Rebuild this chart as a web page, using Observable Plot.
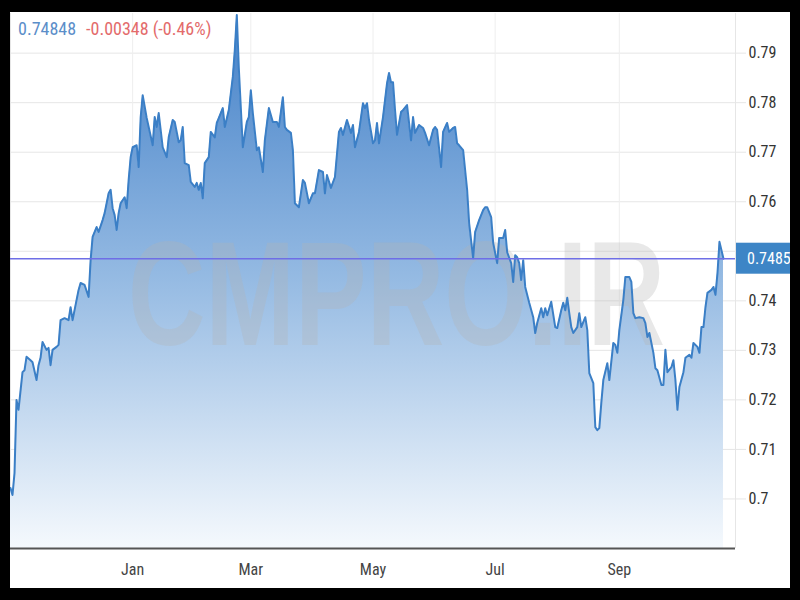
<!DOCTYPE html>
<html><head><meta charset="utf-8">
<script src="https://cdn.jsdelivr.net/npm/d3@7"></script>
<script src="https://cdn.jsdelivr.net/npm/@observablehq/plot@0.6"></script>
<style>
html,body{margin:0;padding:0;background:#000;width:800px;height:600px;overflow:hidden;}
#panel{position:absolute;left:10px;top:12px;width:780px;height:576px;background:#fff;overflow:hidden;}
#header{position:absolute;left:8px;top:8px;font-size:18px;line-height:1;white-space:pre;z-index:2;
  font-family:"Liberation Sans Narrow","Arial Narrow","Roboto Condensed","Roboto",sans-serif;}
#chart{position:absolute;left:0;top:0;}
</style></head><body>
<div id="panel"><div id="header"><span id="hPrice" style="color:#5b8ec9"></span><span id="hChange" style="color:#e36b6b;margin-left:10px"></span></div><div id="chart"></div></div>
<script>
const FONT = '"Liberation Sans Narrow","Arial Narrow","Roboto Condensed","Roboto",sans-serif';

const headerPrice = "0.74848";
const headerChange = "-0.00348 (-0.46%)";
const lastPrice = 0.7485;
const lastPriceLabel = "0.7485";
const watermark = "CMPRO.IR";

const gridTicks = [0.70, 0.71, 0.72, 0.73, 0.74, 0.75, 0.76, 0.77, 0.78, 0.79];
const yTicks = [0.70, 0.71, 0.72, 0.73, 0.74, 0.76, 0.77, 0.78, 0.79];
const yTickLabels = ["0.7", "0.71", "0.72", "0.73", "0.74", "0.76", "0.77", "0.78", "0.79"];
const monthTickDates = ["2018-01-01", "2018-03-01", "2018-05-01", "2018-07-01", "2018-09-01"];
const monthLabels = ["Jan", "Mar", "May", "Jul", "Sep"];

const dates = [
"2017-11-01","2017-11-02","2017-11-03","2017-11-04","2017-11-05","2017-11-07","2017-11-08","2017-11-09","2017-11-11","2017-11-12",
"2017-11-14","2017-11-15","2017-11-16","2017-11-17","2017-11-19","2017-11-20","2017-11-21","2017-11-22","2017-11-24","2017-11-25",
"2017-11-26","2017-11-28","2017-11-30","2017-12-01","2017-12-02","2017-12-04","2017-12-05","2017-12-06","2017-12-08","2017-12-10",
"2017-12-11","2017-12-12","2017-12-14","2017-12-15","2017-12-17","2017-12-18","2017-12-20","2017-12-21","2017-12-22","2017-12-23",
"2017-12-24","2017-12-25","2017-12-26","2017-12-28","2017-12-29","2017-12-30","2017-12-31","2018-01-01","2018-01-03","2018-01-04",
"2018-01-05","2018-01-06","2018-01-08","2018-01-09","2018-01-11","2018-01-12","2018-01-13","2018-01-14","2018-01-16","2018-01-18",
"2018-01-19","2018-01-21","2018-01-22","2018-01-24","2018-01-25","2018-01-26","2018-01-27","2018-01-29","2018-01-30","2018-02-01",
"2018-02-02","2018-02-03","2018-02-04","2018-02-05","2018-02-06","2018-02-08","2018-02-09","2018-02-11","2018-02-12","2018-02-13",
"2018-02-15","2018-02-16","2018-02-18","2018-02-20","2018-02-21","2018-02-22","2018-02-23","2018-02-25","2018-02-27","2018-02-28",
"2018-03-01","2018-03-02","2018-03-04","2018-03-05","2018-03-07","2018-03-08","2018-03-10","2018-03-12","2018-03-14","2018-03-15",
"2018-03-17","2018-03-18","2018-03-19","2018-03-21","2018-03-22","2018-03-23","2018-03-25","2018-03-27","2018-03-28","2018-03-30",
"2018-04-01","2018-04-02","2018-04-04","2018-04-06","2018-04-07","2018-04-08","2018-04-10","2018-04-12","2018-04-14","2018-04-15",
"2018-04-16","2018-04-18","2018-04-20","2018-04-21","2018-04-22","2018-04-24","2018-04-26","2018-04-27","2018-04-28","2018-04-29",
"2018-05-01","2018-05-02","2018-05-03","2018-05-04","2018-05-06","2018-05-08","2018-05-09","2018-05-10","2018-05-11","2018-05-12",
"2018-05-13","2018-05-15","2018-05-16","2018-05-18","2018-05-20","2018-05-21","2018-05-22","2018-05-24","2018-05-26","2018-05-27",
"2018-05-29","2018-05-31","2018-06-01","2018-06-02","2018-06-04","2018-06-05","2018-06-07","2018-06-08","2018-06-10","2018-06-11",
"2018-06-12","2018-06-13","2018-06-15","2018-06-17","2018-06-18","2018-06-20","2018-06-21","2018-06-23","2018-06-25","2018-06-26",
"2018-06-27","2018-06-29","2018-06-30","2018-07-02","2018-07-03","2018-07-05","2018-07-06","2018-07-07","2018-07-09","2018-07-10",
"2018-07-11","2018-07-12","2018-07-13","2018-07-14","2018-07-15","2018-07-16","2018-07-18","2018-07-20","2018-07-21","2018-07-22",
"2018-07-24","2018-07-25","2018-07-26","2018-07-27","2018-07-29","2018-07-31","2018-08-01","2018-08-03","2018-08-04","2018-08-05",
"2018-08-06","2018-08-07","2018-08-08","2018-08-09","2018-08-11","2018-08-12","2018-08-13","2018-08-15","2018-08-16","2018-08-17",
"2018-08-19","2018-08-20","2018-08-21","2018-08-22","2018-08-23","2018-08-24","2018-08-26","2018-08-27","2018-08-29","2018-08-30",
"2018-08-31","2018-09-01","2018-09-03","2018-09-04","2018-09-06","2018-09-07","2018-09-08","2018-09-09","2018-09-11","2018-09-13",
"2018-09-14","2018-09-15","2018-09-16","2018-09-18","2018-09-19","2018-09-20","2018-09-22","2018-09-23","2018-09-24","2018-09-25",
"2018-09-27","2018-09-28","2018-09-29","2018-09-30","2018-10-01","2018-10-03","2018-10-04","2018-10-06","2018-10-07","2018-10-08",
"2018-10-10","2018-10-11","2018-10-12","2018-10-13","2018-10-14","2018-10-15","2018-10-17","2018-10-18","2018-10-19","2018-10-20",
"2018-10-21","2018-10-23"
];
const values = [
0.7022,0.7008,0.7052,0.7200,0.7180,0.7256,0.7260,0.7287,0.7280,0.7276,
0.7240,0.7270,0.7285,0.7317,0.7301,0.7305,0.7270,0.7301,0.7307,0.7311,
0.7361,0.7365,0.7361,0.7387,0.7361,0.7402,0.7422,0.7436,0.7432,0.7408,
0.7482,0.7529,0.7549,0.7539,0.7563,0.7577,0.7617,0.7624,0.7587,0.7573,
0.7543,0.7577,0.7597,0.7609,0.7587,0.7644,0.7690,0.7710,0.7714,0.7670,
0.7771,0.7815,0.7769,0.7751,0.7714,0.7771,0.7751,0.7779,0.7710,0.7690,
0.7730,0.7765,0.7761,0.7720,0.7724,0.7751,0.7678,0.7674,0.7640,0.7630,
0.7638,0.7624,0.7638,0.7607,0.7678,0.7690,0.7741,0.7730,0.7759,0.7769,
0.7789,0.7751,0.7785,0.7852,0.7906,0.7977,0.7870,0.7710,0.7761,0.7771,
0.7825,0.7779,0.7704,0.7710,0.7660,0.7724,0.7789,0.7761,0.7761,0.7751,
0.7811,0.7751,0.7745,0.7739,0.7704,0.7597,0.7589,0.7644,0.7638,0.7597,
0.7617,0.7617,0.7664,0.7660,0.7617,0.7654,0.7628,0.7650,0.7741,0.7749,
0.7735,0.7765,0.7739,0.7755,0.7710,0.7741,0.7799,0.7789,0.7799,0.7765,
0.7718,0.7724,0.7759,0.7718,0.7771,0.7839,0.7860,0.7841,0.7841,0.7785,
0.7735,0.7781,0.7785,0.7795,0.7724,0.7771,0.7739,0.7755,0.7749,0.7739,
0.7714,0.7745,0.7751,0.7745,0.7670,0.7741,0.7759,0.7741,0.7749,0.7751,
0.7718,0.7714,0.7704,0.7624,0.7557,0.7486,0.7539,0.7563,0.7583,0.7589,
0.7589,0.7569,0.7517,0.7476,0.7527,0.7527,0.7543,0.7498,0.7476,0.7438,
0.7492,0.7488,0.7476,0.7442,0.7482,0.7428,0.7396,0.7367,0.7335,0.7355,
0.7385,0.7367,0.7385,0.7371,0.7398,0.7347,0.7345,0.7381,0.7396,0.7381,
0.7406,0.7375,0.7347,0.7335,0.7347,0.7375,0.7347,0.7367,0.7341,0.7254,
0.7234,0.7145,0.7139,0.7143,0.7194,0.7240,0.7274,0.7240,0.7315,0.7311,
0.7295,0.7341,0.7402,0.7448,0.7448,0.7438,0.7375,0.7365,0.7367,0.7365,
0.7355,0.7327,0.7335,0.7295,0.7264,0.7260,0.7230,0.7230,0.7301,0.7256,
0.7266,0.7280,0.7240,0.7180,0.7226,0.7256,0.7285,0.7291,0.7285,0.7315,
0.7307,0.7295,0.7347,0.7347,0.7387,0.7416,0.7422,0.7428,0.7412,0.7456,
0.7519,0.7485
];

document.getElementById("hPrice").textContent = headerPrice;
document.getElementById("hChange").textContent = headerChange;

const data = dates.map((d, i) => ({date: new Date(d), value: values[i]}));
const monthTicks = monthTickDates.map(d => new Date(d));
const xStart = new Date("2017-11-01"), xEnd = new Date("2018-10-29");
const yMin = 0.69, yMax = 0.798;

const chart = Plot.plot({
  width: 780, height: 576,
  marginLeft: 0, marginRight: 55, marginTop: 1, marginBottom: 40,
  style: {background: "transparent", fontFamily: FONT, overflow: "visible"},
  x: {type: "utc", domain: [xStart, xEnd]},
  y: {domain: [yMin, yMax]},
  marks: [
    Plot.gridY(gridTicks, {stroke: "#e6e6e6", strokeOpacity: 1}),
    Plot.gridX(monthTicks, {stroke: "#eeeeee", strokeOpacity: 1}),
    Plot.ruleX([xStart, xEnd], {stroke: "#e6e6e6"}),
    Plot.areaY(data, {x: "date", y1: yMin, y2: "value", fill: "url(#areaGrad)"}),
    Plot.line(data, {x: "date", y: "value", stroke: "#3b7fc6", strokeWidth: 2, strokeLinejoin: "round"}),
    Plot.ruleY([lastPrice], {stroke: "#6e6ee6", strokeWidth: 1.5}),
    Plot.ruleY([yMin], {stroke: "#555", strokeWidth: 2}),
    Plot.axisY(yTicks, {anchor: "right", tickSize: 10, tickPadding: 3, stroke: "#e6e6e6", fill: "#333",
      fontSize: 16, label: null,
      tickFormat: d => yTickLabels[yTicks.findIndex(t => Math.abs(t - d) < 1e-9)]}),
    Plot.axisX(monthTicks, {tickSize: 0, tickPadding: 15, fill: "#444", fontSize: 16, label: null,
      tickFormat: d => monthLabels[monthTicks.findIndex(t => +t === +d)]})
  ]
});

const NS = "http://www.w3.org/2000/svg";
const defs = document.createElementNS(NS, "defs");
const grad = document.createElementNS(NS, "linearGradient");
grad.setAttribute("id", "areaGrad");
grad.setAttribute("x1", "0"); grad.setAttribute("y1", "0");
grad.setAttribute("x2", "0"); grad.setAttribute("y2", "1");
[["0", "#4481c8"], ["0.5", "#96bbe3"], ["1", "#f5f9fd"]].forEach(([o, c]) => {
  const s = document.createElementNS(NS, "stop");
  s.setAttribute("offset", o); s.setAttribute("stop-color", c);
  grad.appendChild(s);
});
defs.appendChild(grad);
chart.insertBefore(defs, chart.firstChild);

const xs = chart.scale("x"), ys = chart.scale("y");
const plotLeft = xs.apply(xStart), plotRight = xs.apply(xEnd);

// watermark, above the area and below the line (scaled vertically so its box stays compact)
const wm = document.createElementNS(NS, "text");
wm.textContent = watermark;
wm.setAttribute("x", 0);
wm.setAttribute("y", 0);
wm.setAttribute("transform", `translate(${(plotLeft + plotRight) / 2 + 24},${ys.apply(0.731)}) scale(1,1.38)`);
wm.setAttribute("text-anchor", "middle");
wm.setAttribute("font-family", '"Liberation Sans", Arial, sans-serif');
wm.setAttribute("font-weight", "bold");
wm.setAttribute("font-size", "107");
wm.setAttribute("textLength", "537");
wm.setAttribute("lengthAdjust", "spacingAndGlyphs");
wm.setAttribute("fill", "#b4b4b4");
wm.setAttribute("fill-opacity", "0.3");
const lineG = chart.querySelector('[aria-label="line"]');
chart.insertBefore(wm, lineG);

// current price label box
const yy = ys.apply(lastPrice);
const box = document.createElementNS(NS, "rect");
box.setAttribute("x", plotRight + 1);
box.setAttribute("y", yy - 15.5);
box.setAttribute("width", 780 - plotRight);
box.setAttribute("height", 31);
box.setAttribute("fill", "#3d85c6");
chart.appendChild(box);
const bt = document.createElementNS(NS, "text");
bt.textContent = lastPriceLabel;
bt.setAttribute("x", plotRight + 12);
bt.setAttribute("y", yy);
bt.setAttribute("dy", "0.36em");
bt.setAttribute("text-anchor", "start");
bt.setAttribute("fill", "#ffffff");
bt.setAttribute("font-size", "16");
bt.setAttribute("font-family", FONT);
chart.appendChild(bt);

document.getElementById("chart").appendChild(chart);
</script>
</body></html>
